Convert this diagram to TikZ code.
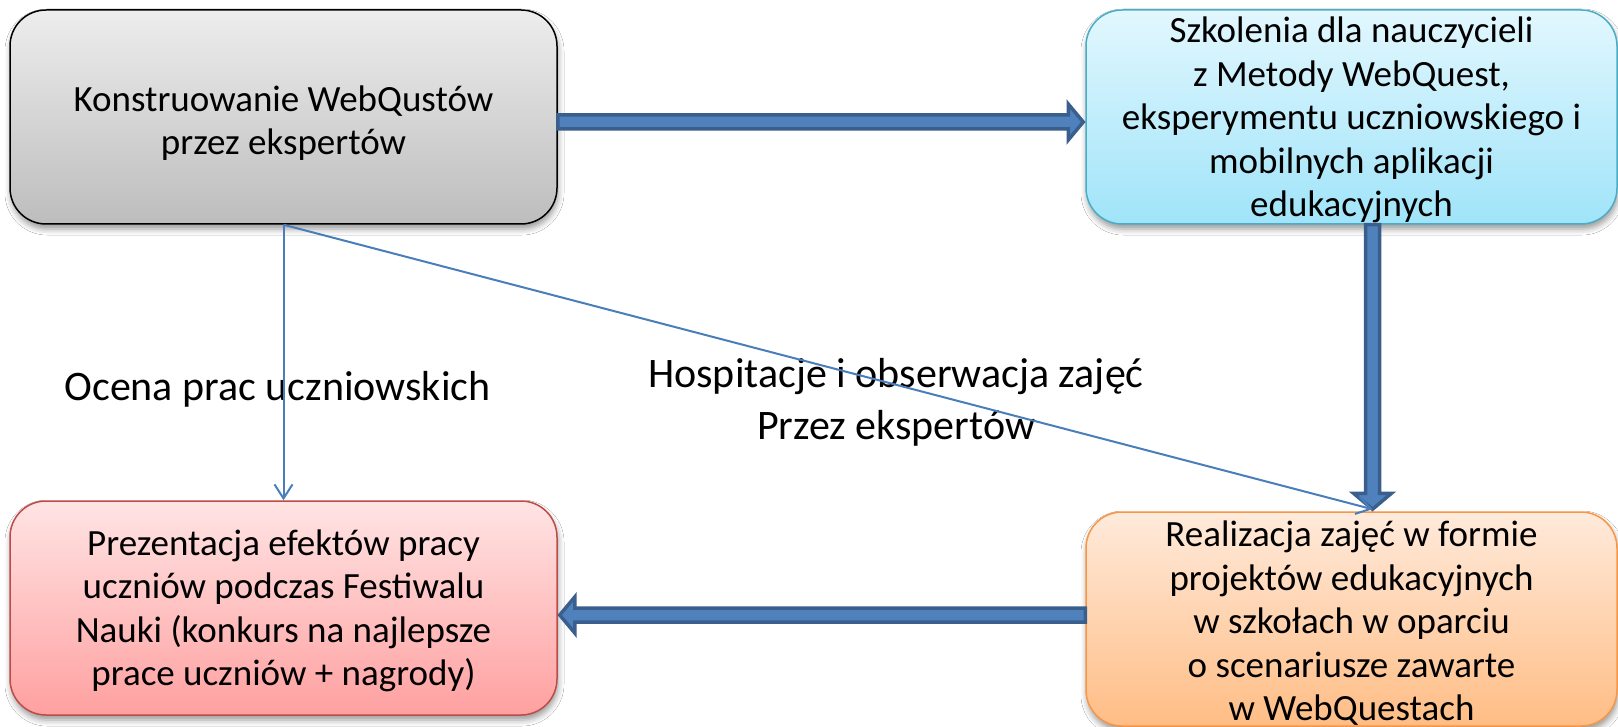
\documentclass[tikz,border=0pt]{standalone}
\usepackage{fontspec}
\setmainfont{Carlito}
\usetikzlibrary{calc,arrows.meta,shadows.blur}

\definecolor{arrowfill}{HTML}{4F81BD}
\definecolor{arrowline}{HTML}{3A5F8D}
\definecolor{thinblue}{HTML}{4A7EBB}
\definecolor{greytop}{HTML}{EDEDED}
\definecolor{greybot}{HTML}{BDBDBD}
\definecolor{bluetop}{HTML}{E2F7FE}
\definecolor{bluebot}{HTML}{A0E4F9}
\definecolor{bluebd}{HTML}{4BACC6}
\definecolor{redtop}{HTML}{FFE4E4}
\definecolor{redbot}{HTML}{FFA0A0}
\definecolor{redbd}{HTML}{BE4B48}
\definecolor{orgtop}{HTML}{FFEADB}
\definecolor{orgbot}{HTML}{FFBD85}
\definecolor{orgbd}{HTML}{F79646}

\newcommand\bxfont{\fontsize{37}{43.5}\selectfont}
\newcommand\lbfont{\fontsize{42}{52}\selectfont}
% invisible strut that pushes a box's text block slightly downwards
\newcommand\topgap[1]{\rule{0pt}{#1pt}}

\begin{document}
\begin{tikzpicture}[x=1pt,y=-1pt,
  box/.style={rounded corners=36pt, minimum width=547pt, minimum height=214pt,
    inner sep=0pt, align=center, line width=1.5pt, font=\bxfont,
    blur shadow={shadow xshift=1pt, shadow yshift=-5pt,
      shadow blur radius=6pt, shadow opacity=40}},
  fat/.style={fill=arrowfill, draw=arrowline, line width=3.5pt, line join=miter},
  thinarr/.style={draw=thinblue, line width=2pt,
    -{Straight Barb[length=14pt, width=18pt]}},
  lbl/.style={font=\lbfont, inner sep=0pt}]

% canvas
\fill[white] (0,0) rectangle (1618,727);
\useasboundingbox (0,0) rectangle (1618,727);

% process boxes
\node[box, top color=greytop, bottom color=greybot, draw=black] (g) at (283.5,117)
  {\topgap{38}Konstruowanie WebQustów\\przez ekspertów};
\node[box, minimum width=531pt, top color=bluetop, bottom color=bluebot, draw=bluebd] (b) at (1351.5,117)
  {\topgap{32}Szkolenia dla nauczycieli\\z Metody WebQuest,\\eksperymentu uczniowskiego i\\mobilnych aplikacji\\edukacyjnych};
\node[box, top color=redtop, bottom color=redbot, draw=redbd] (r) at (283.5,608)
  {\topgap{31}Prezentacja efektów pracy\\uczniów podczas Festiwalu\\Nauki (konkurs na najlepsze\\prace uczniów + nagrody)};
\node[box, minimum width=531pt, top color=orgtop, bottom color=orgbot, draw=orgbd] (o) at (1351.5,619)
  {\topgap{34}Realizacja zajęć w formie\\projektów edukacyjnych\\w szkołach w oparciu\\o scenariusze zawarte\\w WebQuestach};

% free-standing labels
\node[lbl, anchor=base] (l1) at (277.5,401) {Ocena prac uczniowskich};
\node[lbl, anchor=base, align=center] (l2) at (896,439)
  {Hospitacje i obserwacja zajęć\\Przez ekspertów};

% block arrows: g -> b
\coordinate (p1) at ($(g.east)+(0,5)$);
\coordinate (q1) at ($(b.west |- p1)+(-2,0)$);
\draw[fat] ($(p1)+(0,-7)$) -- ($(q1)+(-15,-7)$) -- ($(q1)+(-15,-18)$) -- (q1)
  -- ($(q1)+(-15,18)$) -- ($(q1)+(-15,7)$) -- ($(p1)+(0,7)$) -- cycle;

% b -> o
\coordinate (p2) at ($(b.south)+(21,0)$);
\coordinate (q2) at ($(o.north)+(21,-2)$);
\draw[fat] ($(p2)+(-7,0)$) -- ($(q2)+(-7,-16)$) -- ($(q2)+(-19,-16)$) -- (q2)
  -- ($(q2)+(19,-16)$) -- ($(q2)+(7,-16)$) -- ($(p2)+(7,0)$) -- cycle;

% o -> r
\coordinate (p3) at ($(o.west)+(0,-4)$);
\coordinate (q3) at ($(r.east |- p3)+(2,0)$);
\draw[fat] ($(p3)+(0,-7)$) -- ($(q3)+(15,-7)$) -- ($(q3)+(15,-18)$) -- (q3)
  -- ($(q3)+(15,18)$) -- ($(q3)+(15,7)$) -- ($(p3)+(0,7)$) -- cycle;

% thin connectors from the expert box
\draw[thinarr] (g.south) -- (r.north);
\draw[thinarr] (g.south) -- (q2);
\end{tikzpicture}
\end{document}
